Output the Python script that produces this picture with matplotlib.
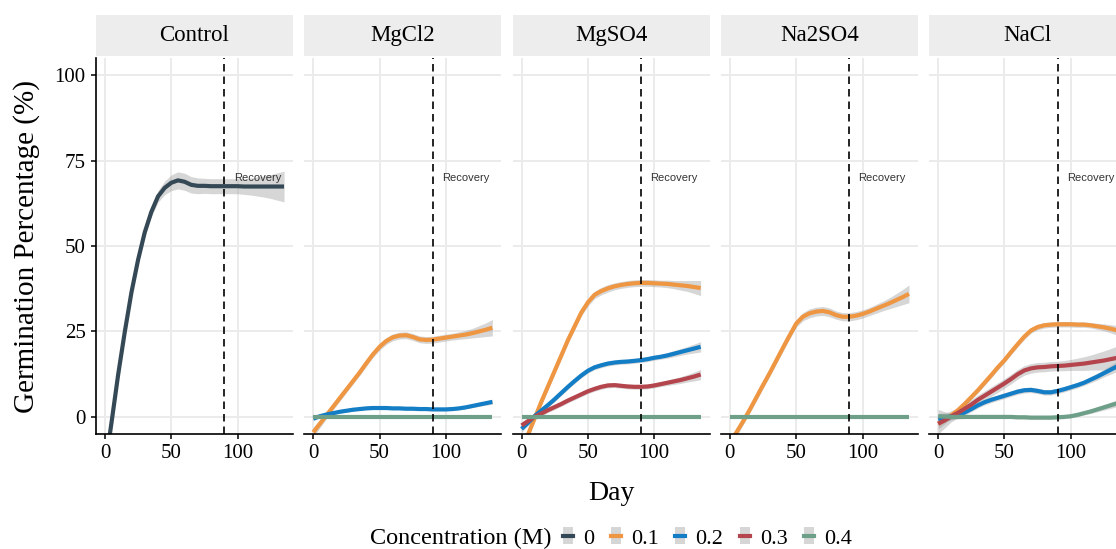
import matplotlib
matplotlib.use('Agg')
import matplotlib.pyplot as plt
import numpy as np
from matplotlib.patches import Rectangle
from matplotlib.lines import Line2D
from matplotlib.legend_handler import HandlerTuple

SERIF = 'Liberation Serif'
SANS = 'Liberation Sans'

# smoothed germination (%) every 5 days, day 0..135
days = list(range(0, 140, 5))

control_0 = [-15, -1.5, 12.5, 25, 36.5, 46, 54, 60, 64.5, 67, 68.5, 69.2, 68.8, 67.9,
             67.6, 67.6, 67.5, 67.5, 67.5, 67.5, 67.5, 67.4, 67.4, 67.4, 67.4, 67.4, 67.4, 67.4]
control_0_se = [2.5, 1.5, 1.2, 1.1, 1.1, 1.1, 1.2, 1.4, 1.7, 2.0, 2.3, 2.5, 2.5, 2.4,
                2.3, 2.2, 2.2, 2.2, 2.2, 2.2, 2.2, 2.3, 2.5, 2.8, 3.1, 3.5, 4.0, 4.5]

mgcl2_01 = [-4.5, -2, 0.5, 3, 5.5, 8, 10.5, 13, 15.7, 18.3, 20.5, 22.2, 23.3, 23.8,
            23.9, 23.4, 22.7, 22.5, 22.6, 22.9, 23.2, 23.5, 23.8, 24.1, 24.5, 25, 25.5, 26.1]
mgcl2_01_se = [1.5, 1.2, 1, 0.9, 0.9, 0.9, 0.9, 0.9, 0.9, 0.9, 1, 1, 1, 1,
               1, 1, 1, 1, 1, 1, 1, 1, 1.1, 1.2, 1.4, 1.7, 2, 2.4]
mgcl2_02 = [-0.5, 0.2, 0.7, 1.1, 1.5, 1.8, 2.1, 2.3, 2.5, 2.6, 2.6, 2.6, 2.5, 2.5,
            2.4, 2.4, 2.3, 2.3, 2.2, 2.2, 2.2, 2.3, 2.5, 2.8, 3.2, 3.6, 4.0, 4.4]
mgcl2_02_se = [0.6, 0.5, 0.4, 0.4, 0.4, 0.4, 0.4, 0.4, 0.4, 0.4, 0.4, 0.4, 0.4, 0.4,
               0.4, 0.4, 0.4, 0.4, 0.4, 0.4, 0.4, 0.4, 0.4, 0.4, 0.5, 0.5, 0.6, 0.7]
mgcl2_04 = [0] * 28
mgcl2_04_se = [0.2] * 28

mgso4_01 = [-9, -5, -0.3, 4.5, 9, 13.5, 18, 22.5, 26.5, 30.5, 33.5, 35.7, 36.8, 37.6,
            38.2, 38.6, 38.9, 39.1, 39.2, 39.2, 39.1, 39, 38.9, 38.7, 38.5, 38.3, 38, 37.7]
mgso4_01_se = [1.5, 1.2, 1, 1, 1, 1, 1, 1, 1, 1, 1.1, 1.1, 1.1, 1.1,
               1, 1, 1, 1, 1, 1, 1, 1, 1.1, 1.2, 1.4, 1.6, 1.9, 2.2]
mgso4_02 = [-3.5, -1.7, 0.3, 1.9, 3.5, 5.2, 7, 8.8, 10.5, 12.1, 13.5, 14.5, 15.1, 15.6,
            15.9, 16.1, 16.2, 16.4, 16.6, 16.9, 17.3, 17.6, 18, 18.5, 19, 19.5, 20, 20.5]
mgso4_02_se = [1, 0.8, 0.7, 0.7, 0.7, 0.7, 0.7, 0.7, 0.7, 0.7, 0.7, 0.7, 0.7, 0.7,
               0.7, 0.7, 0.7, 0.7, 0.7, 0.7, 0.7, 0.7, 0.8, 0.9, 1, 1.1, 1.3, 1.5]
mgso4_03 = [-2.5, -1.2, 0.1, 1, 2, 2.9, 3.8, 4.8, 5.7, 6.6, 7.5, 8.2, 8.8, 9.2,
            9.3, 9.1, 8.9, 8.8, 8.8, 8.9, 9.2, 9.6, 10, 10.4, 10.8, 11.3, 11.8, 12.4]
mgso4_03_se = [1, 0.8, 0.7, 0.7, 0.7, 0.7, 0.7, 0.7, 0.7, 0.7, 0.7, 0.7, 0.7, 0.7,
               0.7, 0.7, 0.7, 0.7, 0.7, 0.7, 0.7, 0.7, 0.8, 0.9, 1, 1.1, 1.3, 1.5]
mgso4_04 = [0] * 28
mgso4_04_se = [0.2] * 28

na2so4_01 = [-7.7, -4.5, -1.3, 2.1, 5.7, 9.3, 12.8, 16.5, 20.2, 23.8, 27.3, 29.3, 30.3, 30.8,
             31, 30.6, 29.8, 29.3, 29.3, 29.6, 30.1, 30.8, 31.6, 32.4, 33.2, 34.1, 35, 36]
na2so4_01_se = [1.5, 1.2, 1, 1, 1, 1, 1, 1, 1, 1, 1.1, 1.2, 1.3, 1.3,
                1.3, 1.3, 1.2, 1.2, 1.2, 1.2, 1.2, 1.2, 1.3, 1.4, 1.6, 1.9, 2.2, 2.6]
na2so4_04 = [0] * 28
na2so4_04_se = [0.2] * 28

nacl_01 = [-2, -0.9, 0.5, 2, 3.8, 5.8, 7.8, 10, 12.2, 14.5, 16.6, 19, 21.3, 23.5,
           25.3, 26.3, 26.8, 27, 27.1, 27.1, 27.1, 27, 27, 26.8, 26.5, 26.2, 25.8, 25.3]
nacl_01_se = [1.5, 1.1, 0.9, 0.8, 0.8, 0.8, 0.8, 0.8, 0.8, 0.8, 0.8, 0.8, 0.8, 0.8,
              0.8, 0.8, 0.8, 0.8, 0.8, 0.8, 0.8, 0.8, 0.8, 0.8, 0.9, 1, 1.2, 1.4]
nacl_02 = [-0.6, -0.2, 0.2, 0.5, 1.3, 2.3, 3.4, 4.3, 5, 5.6, 6.2, 6.8, 7.4, 7.8,
           7.9, 7.6, 7.2, 7.2, 7.6, 8.1, 8.7, 9.3, 10, 10.9, 11.8, 12.8, 13.8, 14.8]
nacl_02_se = [1.5, 1.1, 0.9, 0.8, 0.8, 0.8, 0.8, 0.8, 0.8, 0.8, 0.8, 0.8, 0.8, 0.8,
              0.8, 0.8, 0.8, 0.8, 0.8, 0.8, 0.8, 0.8, 0.8, 0.9, 1, 1.1, 1.3, 1.5]
nacl_03 = [-2, -1, 0.2, 1.2, 2.4, 3.6, 5, 6.2, 7.4, 8.6, 9.8, 11.1, 12.5, 13.6,
           14.2, 14.5, 14.6, 14.8, 14.9, 15, 15.2, 15.4, 15.6, 15.9, 16.2, 16.5, 16.9, 17.3]
nacl_03_se = [3, 2.2, 1.6, 1.4, 1.4, 1.4, 1.4, 1.4, 1.4, 1.4, 1.4, 1.4, 1.4, 1.4,
              1.4, 1.4, 1.4, 1.4, 1.4, 1.5, 1.6, 1.8, 2.0, 2.2, 2.5, 2.8, 3.1, 3.4]
nacl_04 = [0.2, 0.1, 0, 0, 0, 0, 0, 0, 0, 0, 0, 0, -0.1, -0.1,
           -0.2, -0.2, -0.2, -0.2, -0.1, 0, 0.2, 0.6, 1.1, 1.6, 2.2, 2.8, 3.4, 4]
nacl_04_se = [2, 1.4, 0.9, 0.6, 0.5, 0.5, 0.5, 0.5, 0.5, 0.5, 0.5, 0.5, 0.5, 0.5,
              0.5, 0.5, 0.5, 0.5, 0.5, 0.5, 0.5, 0.5, 0.5, 0.6, 0.7, 0.8, 0.9, 1.0]

panels = ['Control', 'MgCl2', 'MgSO4', 'Na2SO4', 'NaCl']
conc_labels = ['0', '0.1', '0.2', '0.3', '0.4']
conc_colors = ['#344955', '#EE9642', '#137DC5', '#B4454D', '#6E9F89']

panel_series = {
    'Control': [(0, control_0, control_0_se)],
    'MgCl2': [(1, mgcl2_01, mgcl2_01_se), (2, mgcl2_02, mgcl2_02_se),
              (4, mgcl2_04, mgcl2_04_se)],
    'MgSO4': [(1, mgso4_01, mgso4_01_se), (2, mgso4_02, mgso4_02_se),
              (3, mgso4_03, mgso4_03_se), (4, mgso4_04, mgso4_04_se)],
    'Na2SO4': [(1, na2so4_01, na2so4_01_se), (4, na2so4_04, na2so4_04_se)],
    'NaCl': [(1, nacl_01, nacl_01_se), (2, nacl_02, nacl_02_se),
             (3, nacl_03, nacl_03_se), (4, nacl_04, nacl_04_se)],
}

recovery_day = 90

W, H = 1116, 549
fig = plt.figure(figsize=(W / 100, H / 100), dpi=100)


def px_box(left, top, width, height):
    return [left / W, 1 - (top + height) / H, width / W, height / H]


panel_left, panel_step, panel_w = 96, 208.3, 197
panel_top, panel_bot = 58, 434
strip_top, strip_bot = 15, 56

x = np.array(days)
for i, name in enumerate(panels):
    left = panel_left + i * panel_step
    ax = fig.add_axes(px_box(left, panel_top, panel_w, panel_bot - panel_top))
    ax.set_xlim(-6.75, 141.75)
    ax.set_ylim(-5, 105)
    ax.set_xticks([0, 50, 100])
    ax.set_yticks([0, 25, 50, 75, 100])
    ax.grid(True, color='#EBEBEB', lw=1.4)
    ax.set_axisbelow(True)
    for s in ['top', 'right']:
        ax.spines[s].set_visible(False)
    ax.spines['bottom'].set_color('black')
    ax.spines['bottom'].set_linewidth(1.2)
    ax.tick_params(axis='x', length=3.5, width=1.1, pad=4, labelsize=15)
    if i == 0:
        ax.spines['left'].set_color('black')
        ax.spines['left'].set_linewidth(1.2)
        ax.tick_params(axis='y', length=3.5, width=1.1, pad=4, labelsize=15)
    else:
        ax.spines['left'].set_visible(False)
        ax.tick_params(axis='y', length=0, labelleft=False)
    for lab in ax.get_xticklabels() + ax.get_yticklabels():
        lab.set_fontfamily(SERIF)

    for ci, vals, se in panel_series[name]:
        v = np.array(vals, dtype=float)
        e = np.array(se, dtype=float)
        ax.fill_between(x, v - e, v + e, color='#999999', alpha=0.4, lw=0)
        ax.plot(x, v, color=conc_colors[ci], lw=3.0, solid_capstyle='butt')

    ax.axvline(recovery_day, color='black', lw=1.2, ls=(0, (4.5, 3)))
    ax.text(recovery_day + 7, 70, 'Recovery', fontsize=8, family=SANS,
            color='#333333', ha='left', va='center')

    sax = fig.add_axes(px_box(left, strip_top, panel_w, strip_bot - strip_top))
    sax.set_facecolor('#EDEDED')
    sax.set_xticks([])
    sax.set_yticks([])
    for s in sax.spines.values():
        s.set_visible(False)
    sax.text(0.5, 0.5, name, ha='center', va='center', fontsize=16.5,
             family=SERIF, transform=sax.transAxes)

fig.text(27 / W, 1 - 246 / H, 'Germination Percentage (%)', rotation=90,
         ha='center', va='center', fontsize=21, family=SERIF)
fig.text(611 / W, 1 - 493 / H, 'Day', ha='center', va='center', fontsize=20,
         family=SERIF)

fig.text(370 / W, 1 - 538 / H, 'Concentration (M)', ha='left', va='center',
         fontsize=17.5, family=SERIF)
handles = [(Rectangle((0, 0), 1, 1, facecolor='#D6D6D6', edgecolor='none'),
            Line2D([], [], color=c, lw=3.0)) for c in conc_colors]
fig.legend(handles, conc_labels, handler_map={tuple: HandlerTuple(ndivide=1, pad=0)},
           loc='center left', bbox_to_anchor=(563 / W, 1 - 538 / H), ncol=5,
           frameon=False, borderpad=0, borderaxespad=0, handlelength=0.45,
           handleheight=0.8, handletextpad=0.45, columnspacing=0.75,
           prop={'family': SERIF, 'size': 16})

fig.savefig('out.png', dpi=100)
